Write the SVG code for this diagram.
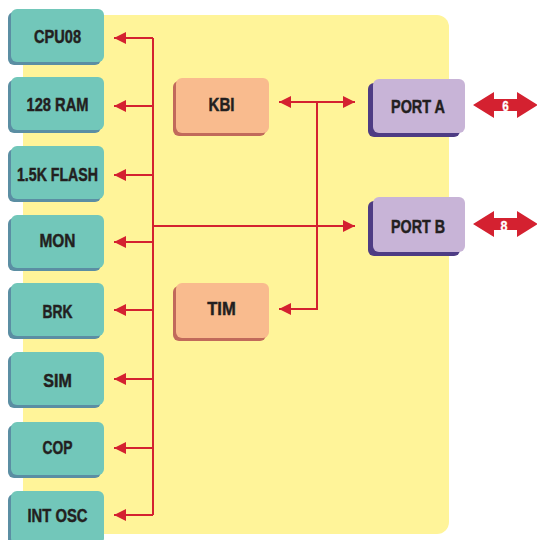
<svg xmlns="http://www.w3.org/2000/svg" width="537" height="540" viewBox="0 0 537 540">
<defs>
<style>
.lbl{font-family:"Liberation Sans",Arial,sans-serif;font-weight:bold;font-size:17.5px;fill:#231f20;stroke:#231f20;stroke-width:0.45px;text-anchor:middle}
.num{font-family:"Liberation Sans",Arial,sans-serif;font-weight:bold;font-size:15px;fill:#ffffff;stroke:#ffffff;stroke-width:0.3px;text-anchor:middle}
.tf{fill:#72c7ba}.ts{fill:#5b8ea3}
.sf{fill:#f9bb8e}.ss{fill:#c16a5b}
.pf{fill:#c8b4d7}.ps{fill:#4e3c84}
.wire{stroke:#d42130;stroke-width:2;fill:none}
.dbl{fill:#d42130}
</style>
<marker id="ah" viewBox="0 0 12 12" refX="12" refY="6" markerWidth="12" markerHeight="12" markerUnits="userSpaceOnUse" orient="auto">
<path d="M0,0 L12,6 L0,12 z" fill="#d42130"/>
</marker>
</defs>
<rect x="23" y="15" width="426" height="519" rx="12" fill="#fff499"/>
<g id="cpu08"><rect class="ts" x="8" y="12" width="93" height="53" rx="6"/><rect class="tf" x="11" y="9" width="93" height="53" rx="6"/><text class="lbl" x="57.5" y="43" textLength="47" lengthAdjust="spacingAndGlyphs">CPU08</text></g>
<g id="ram"><rect class="ts" x="8" y="80" width="93" height="53" rx="6"/><rect class="tf" x="11" y="77" width="93" height="53" rx="6"/><text class="lbl" x="57.5" y="111" textLength="62" lengthAdjust="spacingAndGlyphs">128 RAM</text></g>
<g id="flash"><rect class="ts" x="8" y="149" width="93" height="53" rx="6"/><rect class="tf" x="11" y="146" width="93" height="53" rx="6"/><text class="lbl" x="57.5" y="181" textLength="81" lengthAdjust="spacingAndGlyphs">1.5K FLASH</text></g>
<g id="mon"><rect class="ts" x="8" y="218" width="93" height="53" rx="6"/><rect class="tf" x="11" y="215" width="93" height="53" rx="6"/><text class="lbl" x="57.5" y="247" textLength="36" lengthAdjust="spacingAndGlyphs">MON</text></g>
<g id="brk"><rect class="ts" x="8" y="286" width="93" height="53" rx="6"/><rect class="tf" x="11" y="283" width="93" height="53" rx="6"/><text class="lbl" x="57.5" y="318" textLength="30" lengthAdjust="spacingAndGlyphs">BRK</text></g>
<g id="sim"><rect class="ts" x="8" y="355" width="93" height="53" rx="6"/><rect class="tf" x="11" y="352" width="93" height="53" rx="6"/><text class="lbl" x="57.5" y="386.5" textLength="28.5" lengthAdjust="spacingAndGlyphs">SIM</text></g>
<g id="cop"><rect class="ts" x="8" y="425" width="93" height="53" rx="6"/><rect class="tf" x="11" y="422" width="93" height="53" rx="6"/><text class="lbl" x="57.5" y="454" textLength="30" lengthAdjust="spacingAndGlyphs">COP</text></g>
<g id="intosc"><rect class="ts" x="8" y="494" width="93" height="53" rx="6"/><rect class="tf" x="11" y="491" width="93" height="53" rx="6"/><text class="lbl" x="57.5" y="521.5" textLength="60" lengthAdjust="spacingAndGlyphs">INT OSC</text></g>
<g id="kbi"><rect class="ss" x="173" y="81" width="93" height="55" rx="6"/><rect class="sf" x="176" y="78" width="93" height="55" rx="6"/><text class="lbl" x="221.5" y="111" textLength="26" lengthAdjust="spacingAndGlyphs">KBI</text></g>
<g id="tim"><rect class="ss" x="173" y="286" width="93" height="55" rx="6"/><rect class="sf" x="176" y="283" width="93" height="55" rx="6"/><text class="lbl" x="221.5" y="315" textLength="28.5" lengthAdjust="spacingAndGlyphs">TIM</text></g>
<g id="porta"><rect class="ps" x="368" y="83" width="92" height="54" rx="6"/><rect class="pf" x="373" y="79" width="92" height="54" rx="6"/><text class="lbl" x="418" y="113" textLength="54" lengthAdjust="spacingAndGlyphs">PORT A</text></g>
<g id="portb"><rect class="ps" x="368" y="201" width="92" height="55" rx="6"/><rect class="pf" x="373" y="197" width="92" height="55" rx="6"/><text class="lbl" x="418" y="232.5" textLength="54" lengthAdjust="spacingAndGlyphs">PORT B</text></g>
<g id="connectors">
<path class="wire" d="M153,38 V515"/>
<path class="wire" marker-end="url(#ah)" d="M153,38 H114"/>
<path class="wire" marker-end="url(#ah)" d="M153,106 H114"/>
<path class="wire" marker-end="url(#ah)" d="M153,175 H114"/>
<path class="wire" marker-end="url(#ah)" d="M153,242 H114"/>
<path class="wire" marker-end="url(#ah)" d="M153,310 H114"/>
<path class="wire" marker-end="url(#ah)" d="M153,379 H114"/>
<path class="wire" marker-end="url(#ah)" d="M153,448 H114"/>
<path class="wire" marker-end="url(#ah)" d="M153,515 H114"/>
<path class="wire" marker-end="url(#ah)" d="M153,226 H355"/>
<path class="wire" marker-end="url(#ah)" d="M317,102 H279"/>
<path class="wire" marker-end="url(#ah)" d="M317,102 H355"/>
<path class="wire" marker-end="url(#ah)" d="M317,102 V309 H279"/>
<g id="pa-io"><path class="dbl" d="M473,105 L494,92 L494,99 L517,99 L517,92 L538,105 L517,118 L517,111 L494,111 L494,118 z"/><text class="num" x="505.5" y="111" textLength="6.5" lengthAdjust="spacingAndGlyphs">6</text></g>
<g id="pb-io"><path class="dbl" d="M473,224 L494,211 L494,218 L517,218 L517,211 L538,224 L517,237 L517,230 L494,230 L494,237 z"/><text class="num" x="504" y="230.5" textLength="7" lengthAdjust="spacingAndGlyphs">8</text></g>
</g>
</svg>
